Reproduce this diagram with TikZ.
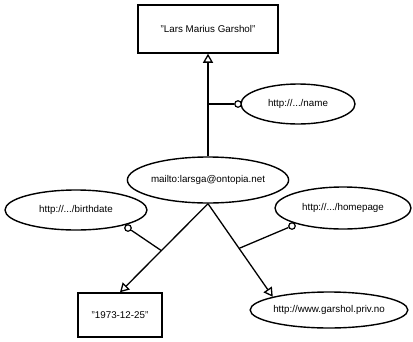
\documentclass[tikz,border=0pt]{standalone}
\usepackage{fontspec}
\setmainfont{Liberation Sans}
\usetikzlibrary{shapes.geometric,arrows.meta,calc}
\begin{document}
\begin{tikzpicture}[x=1pt,y=-1pt,
  every node/.style={font=\fontsize{9.8}{11}\selectfont, inner sep=0pt},
  litbox/.style={draw, line width=1.5pt, rectangle},
  topicell/.style={draw, line width=1.4pt, ellipse},
  conn/.style={line width=1.3pt},
  arr/.style={line width=1.3pt, -{Triangle[open,length=9pt,width=10pt]}},
  dot/.style={draw, circle, line width=1.2pt, minimum size=6.5pt, fill=white}]
\useasboundingbox (0,0) rectangle (413,341);
% nodes
\node[litbox, minimum width=140pt, minimum height=48pt] (top) at (208,29) {"Lars Marius Garshol"};
\node[topicell, minimum width=114pt, minimum height=40pt] (name) at (298,104) {http://.../name};
\node[topicell, minimum width=142pt, minimum height=46pt] (mail) at (208,180) {mailto:larsga@ontopia.net};
\node[topicell, minimum width=142pt, minimum height=40pt] (birth) at (76,210) {http://.../birthdate};
\node[topicell, minimum width=136pt, minimum height=42pt] (home) at (343,208) {http://.../homepage};
\node[litbox, minimum width=84pt, minimum height=44pt] (date) at (120,315) {"1973-12-25"};
\node[topicell, minimum width=140pt, minimum height=36pt] (gars) at (329,310) {http://www.garshol.priv.no};
% association lines
\draw[arr] (mail.north) -- (top.south);
\draw[arr] (mail.south) -- (date.north);
\draw[arr] (mail.south) -- (gars.north west);
% junctions
\coordinate (j0) at (top.south |- name.west);
\coordinate (jb) at ($(mail.south)!0.53!(date.north)$);
\coordinate (jh) at ($(mail.south)!0.48!(gars.north west)$);
% type circles
\node[dot] (c0) at (238,104) {};
\node[dot] (cb) at (128,228) {};
\node[dot] (ch) at (292,226) {};
\draw[conn] (j0) -- (c0);
\draw[conn] (jb) -- (cb);
\draw[conn] (jh) -- (ch);
\end{tikzpicture}
\end{document}
